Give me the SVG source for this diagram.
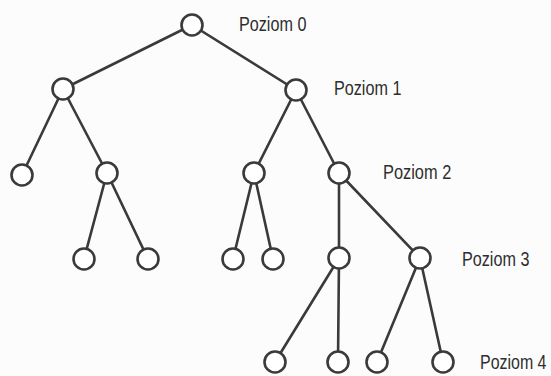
<svg xmlns="http://www.w3.org/2000/svg" width="551" height="376" viewBox="0 0 551 376">
  <style>
    .edge { stroke: #3a3a3a; stroke-width: 2.6; stroke-linecap: round; fill: none; }
    .node { fill: #ffffff; stroke: #3a3a3a; stroke-width: 2.6; }
    .lvl { font-family: "Liberation Sans", "DejaVu Sans", sans-serif; font-size: 21px; fill: #2e2e2e; }
  </style>
  <rect width="551" height="376" fill="#fcfcfc"/>

  <!-- connectors -->
  <g id="edges">
    <line class="edge" x1="192" y1="25" x2="63" y2="89"/>
    <line class="edge" x1="192" y1="25" x2="296" y2="90"/>
    <line class="edge" x1="63" y1="89" x2="22" y2="175"/>
    <line class="edge" x1="63" y1="89" x2="107" y2="173"/>
    <line class="edge" x1="296" y1="90" x2="254" y2="173"/>
    <line class="edge" x1="296" y1="90" x2="339" y2="173"/>
    <line class="edge" x1="107" y1="173" x2="84" y2="259"/>
    <line class="edge" x1="107" y1="173" x2="148" y2="259"/>
    <line class="edge" x1="254" y1="173" x2="233" y2="259"/>
    <line class="edge" x1="254" y1="173" x2="273" y2="259"/>
    <line class="edge" x1="339" y1="173" x2="339" y2="258"/>
    <line class="edge" x1="339" y1="173" x2="420" y2="258"/>
    <line class="edge" x1="339" y1="258" x2="275" y2="362"/>
    <line class="edge" x1="339" y1="258" x2="338" y2="362"/>
    <line class="edge" x1="420" y1="258" x2="377" y2="362"/>
    <line class="edge" x1="420" y1="258" x2="443" y2="362"/>
  </g>

  <!-- nodes -->
  <g id="n0"><circle class="node" cx="192" cy="25" r="10.5"/></g>
  <g id="n1a"><circle class="node" cx="63" cy="89" r="10.5"/></g>
  <g id="n1b"><circle class="node" cx="296" cy="90" r="10.5"/></g>
  <g id="n2a"><circle class="node" cx="22" cy="175" r="10.5"/></g>
  <g id="n2b"><circle class="node" cx="107" cy="173" r="10.5"/></g>
  <g id="n2c"><circle class="node" cx="254" cy="173" r="10.5"/></g>
  <g id="n2d"><circle class="node" cx="339" cy="173" r="10.5"/></g>
  <g id="n3a"><circle class="node" cx="84" cy="259" r="10.5"/></g>
  <g id="n3b"><circle class="node" cx="148" cy="259" r="10.5"/></g>
  <g id="n3c"><circle class="node" cx="233" cy="259" r="10.5"/></g>
  <g id="n3d"><circle class="node" cx="273" cy="259" r="10.5"/></g>
  <g id="n3e"><circle class="node" cx="339" cy="258" r="10.5"/></g>
  <g id="n3f"><circle class="node" cx="420" cy="258" r="10.5"/></g>
  <g id="n4a"><circle class="node" cx="275" cy="362" r="10.5"/></g>
  <g id="n4b"><circle class="node" cx="338" cy="362" r="10.5"/></g>
  <g id="n4c"><circle class="node" cx="377" cy="362" r="10.5"/></g>
  <g id="n4d"><circle class="node" cx="443" cy="362" r="10.5"/></g>

  <!-- level labels, horizontally condensed -->
  <g id="labels">
    <text class="lvl" transform="translate(239 31) scale(0.77 1)">Poziom 0</text>
    <text class="lvl" transform="translate(334 95) scale(0.77 1)">Poziom 1</text>
    <text class="lvl" transform="translate(383 179) scale(0.78 1)">Poziom 2</text>
    <text class="lvl" transform="translate(462 266) scale(0.77 1)">Poziom 3</text>
    <text class="lvl" transform="translate(480 369) scale(0.76 1)">Poziom 4</text>
  </g>
</svg>
